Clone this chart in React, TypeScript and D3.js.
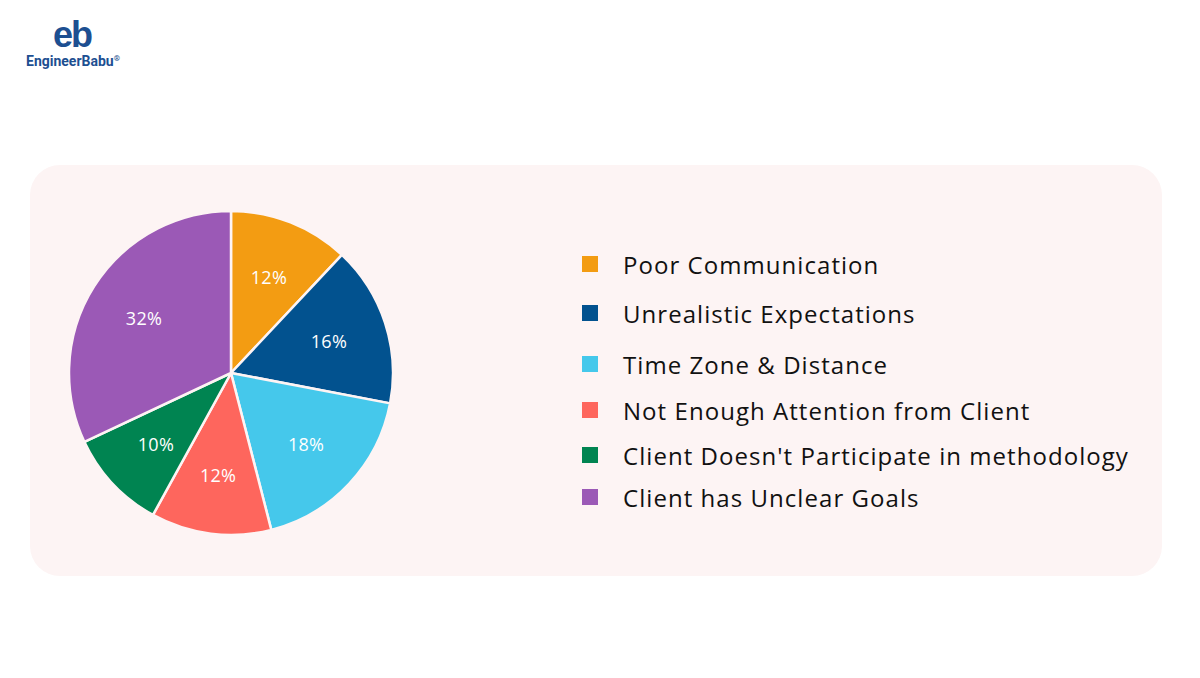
import React from "react";
import * as d3 from "d3";

const categories = [
  "Poor Communication",
  "Unrealistic Expectations",
  "Time Zone & Distance",
  "Not Enough Attention from Client",
  "Client Doesn't Participate in methodology",
  "Client has Unclear Goals",
];
const values = [12, 16, 18, 12, 10, 32];
const colors = ["#f39c12", "#02528f", "#45c8eb", "#fe665d", "#008451", "#9b59b6"];
const legendY = [264, 313, 364, 410, 455, 497];

const W = 1200;
const H = 678;
const cx = 231;
const cy = 373;
const R = 162;

export default function App() {
  const pie = d3.pie<number>().sort(null).value((d) => d)(values);
  const arc = d3.arc<d3.PieArcDatum<number>>().innerRadius(0).outerRadius(R);
  const labelArc = d3.arc<d3.PieArcDatum<number>>().innerRadius(103).outerRadius(103);
  const font = "'Open Sans', 'Noto Sans', sans-serif";
  return (
    <svg
      width={W}
      height={H}
      style={{ position: "absolute", left: 0, top: 0, background: "#ffffff" }}
    >
      <rect x={0} y={0} width={W} height={H} fill="#ffffff" />
      {/* logo */}
      <g fill="#1d4f91">
        <text x={72} y={47} textAnchor="middle" fontFamily="'Liberation Sans', Arial, sans-serif" fontWeight={700} fontSize={36} letterSpacing={-2}>
          eb
        </text>
        <text x={26} y={66} fontFamily="'Roboto', 'Open Sans', sans-serif" fontWeight={700} fontSize={14}>
          EngineerBabu
          <tspan fontSize={8} dy={-5}>®</tspan>
        </text>
      </g>
      {/* panel */}
      <rect x={30} y={165} width={1132} height={411} rx={30} ry={30} fill="#fdf4f4" />
      {/* pie */}
      <g transform={`translate(${cx},${cy})`}>
        {pie.map((d, i) => (
          <path key={i} d={arc(d) || ""} fill={colors[i]} stroke="#fdf4f4" strokeWidth={2.5} strokeLinejoin="round" />
        ))}
        {pie.map((d, i) => {
          const [x, y] = labelArc.centroid(d);
          return (
            <text
              key={"l" + i}
              x={x}
              y={y}
              textAnchor="middle"
              dominantBaseline="central"
              fill="#ffffff"
              fontFamily={font}
              fontSize={18}
              letterSpacing={0.3}
            >
              {values[i]}%
            </text>
          );
        })}
      </g>
      {/* legend */}
      <g>
        {categories.map((c, i) => (
          <g key={c} transform={`translate(582,${legendY[i]})`}>
            <rect x={0} y={-8} width={16} height={16} fill={colors[i]} />
            <text x={41} y={0} dominantBaseline="central" fill="#111111" fontFamily={font} fontWeight={500} fontSize={24} letterSpacing={1.05}>
              {c}
            </text>
          </g>
        ))}
      </g>
    </svg>
  );
}
